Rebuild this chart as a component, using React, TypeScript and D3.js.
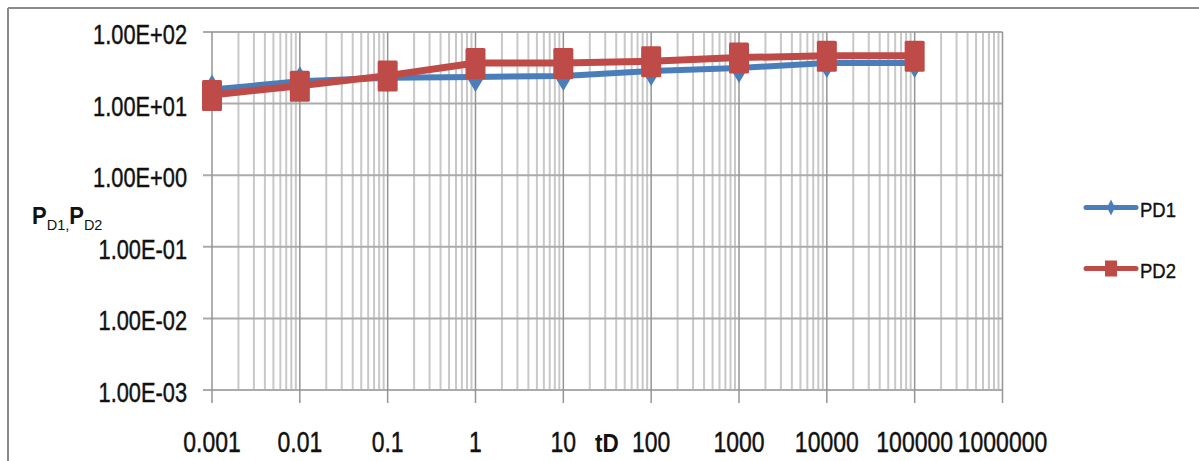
import React from "react";
import * as d3 from "d3";

const tD = [0.001, 0.01, 0.1, 1, 10, 100, 1000, 10000, 100000];
const PD1 = [15.7, 20.5, 22.9, 23.6, 24.2, 28.5, 31.5, 36.8, 37];
const PD2 = [13.2, 17.8, 24.6, 37, 37, 39, 43.9, 46.5, 46.6];
const xTickLabels = ["0.001", "0.01", "0.1", "1", "10", "100", "1000", "10000", "100000", "1000000"];
const yTickLabels = ["1.00E-03", "1.00E-02", "1.00E-01", "1.00E+00", "1.00E+01", "1.00E+02"];
const seriesNames = ["PD1", "PD2"];

const W = 1199;
const H = 461;
const BLUE = "#4A7EBB";
const RED = "#BE4B48";
const FONT = "'Liberation Sans', Arial, sans-serif";

type STProps = {
  x: number;
  y: number;
  sy: number;
  sx?: number;
  anchor?: "start" | "middle" | "end";
  size: number;
  bold?: boolean;
  children: React.ReactNode;
};

function SText({ x, y, sy, sx = 1, anchor = "start", size, bold, children }: STProps) {
  return (
    <g transform={`translate(${x},${y}) scale(${sx},${sy})`}>
      <text
        x={0}
        y={0}
        textAnchor={anchor}
        fontFamily={FONT}
        fontSize={size}
        fontWeight={bold ? "bold" : "normal"}
        fill="#111"
        stroke={bold ? "none" : "#111"}
        strokeWidth={0.35}
      >
        {children}
      </text>
    </g>
  );
}

export default function App() {
  const x = d3.scaleLog().domain([1e-3, 1e6]).range([212, 1002.5]);
  const y = d3.scaleLog().domain([1e-3, 1e2]).range([390, 32]);

  const xDecades = xTickLabels.map((t) => +t);
  const yDecades = yTickLabels.map((t) => +t);
  const minors: number[] = [];
  for (let i = 0; i < xDecades.length - 1; i++) {
    for (let m = 2; m <= 9; m++) minors.push(xDecades[i] * m);
  }

  const line = d3
    .line<number>()
    .x((_, i) => x(tD[i]))
    .y((v) => y(v));

  const diamond = (cx: number, cy: number, hw: number, hh: number) =>
    `M${cx},${cy - hh}L${cx + hw},${cy}L${cx},${cy + hh}L${cx - hw},${cy}Z`;

  return (
    <svg
      width={W}
      height={H}
      style={{ position: "absolute", left: 0, top: 0, background: "#fff" }}
    >
      {/* outer chart border */}
      <line x1={8} y1={8} x2={W} y2={8} stroke="#8a8a8a" strokeWidth={2} />
      <line x1={8} y1={8} x2={8} y2={H} stroke="#8a8a8a" strokeWidth={2} />

      {/* minor vertical gridlines */}
      {minors.map((v, i) => (
        <line key={"mv" + i} x1={x(v)} x2={x(v)} y1={32} y2={390} stroke="#c8c8c8" strokeWidth={2} />
      ))}
      {/* horizontal gridlines */}
      {yDecades.map((v, i) => (
        <line key={"hy" + i} x1={203} x2={1002.5} y1={y(v)} y2={y(v)} stroke="#ababab" strokeWidth={2} />
      ))}
      {/* major vertical gridlines + ticks */}
      {xDecades.map((v, i) => (
        <line key={"Mv" + i} x1={x(v)} x2={x(v)} y1={32} y2={403} stroke="#959595" strokeWidth={1.5} />
      ))}

      {/* y tick labels */}
      {yDecades.map((v, i) => (
        <SText key={"yl" + i} x={187} y={y(v) + 12} sy={1.25} anchor="end" size={21.8}>
          {yTickLabels[i]}
        </SText>
      ))}
      {/* x tick labels */}
      {xDecades.map((v, i) => (
        <SText key={"xl" + i} x={x(v)} y={452} sy={1.32} anchor="middle" size={23}>
          {xTickLabels[i]}
        </SText>
      ))}

      {/* axis titles */}
      <SText x={595} y={452} sy={1.15} size={22.5} bold>
        tD
      </SText>
      <SText x={32} y={223.5} sy={1.05} size={22} bold>
        P
        <tspan fontSize={14.5} dy={6} fontWeight="normal">D1,</tspan>
        <tspan dy={-6}>P</tspan>
        <tspan fontSize={14.5} dy={6} fontWeight="normal">D2</tspan>
      </SText>

      {/* PD1 series */}
      <path d={line(PD1) || ""} fill="none" stroke={BLUE} strokeWidth={6} strokeLinejoin="round" />
      {PD1.map((v, i) => (
        <path key={"d" + i} d={diamond(x(tD[i]), y(v), 9, 15)} fill={BLUE} />
      ))}

      {/* PD2 series */}
      <path d={line(PD2) || ""} fill="none" stroke={RED} strokeWidth={7} strokeLinejoin="round" />
      {PD2.map((v, i) => (
        <rect key={"s" + i} x={x(tD[i]) - 10} y={y(v) - 15} width={20} height={31} rx={1.5} fill={RED} />
      ))}

      {/* legend */}
      <line x1={1086} x2={1136} y1={207.5} y2={207.5} stroke={BLUE} strokeWidth={5} strokeLinecap="round" />
      <path d={diamond(1111, 207.5, 4, 8)} fill={BLUE} />
      <SText x={1140} y={216.5} sy={1.12} size={18.5}>
        {seriesNames[0]}
      </SText>
      <line x1={1086} x2={1136} y1={268.5} y2={268.5} stroke={RED} strokeWidth={5} strokeLinecap="round" />
      <rect x={1105} y={260.5} width={12} height={16} fill={RED} />
      <SText x={1140} y={277.5} sy={1.12} size={18.5}>
        {seriesNames[1]}
      </SText>
    </svg>
  );
}
